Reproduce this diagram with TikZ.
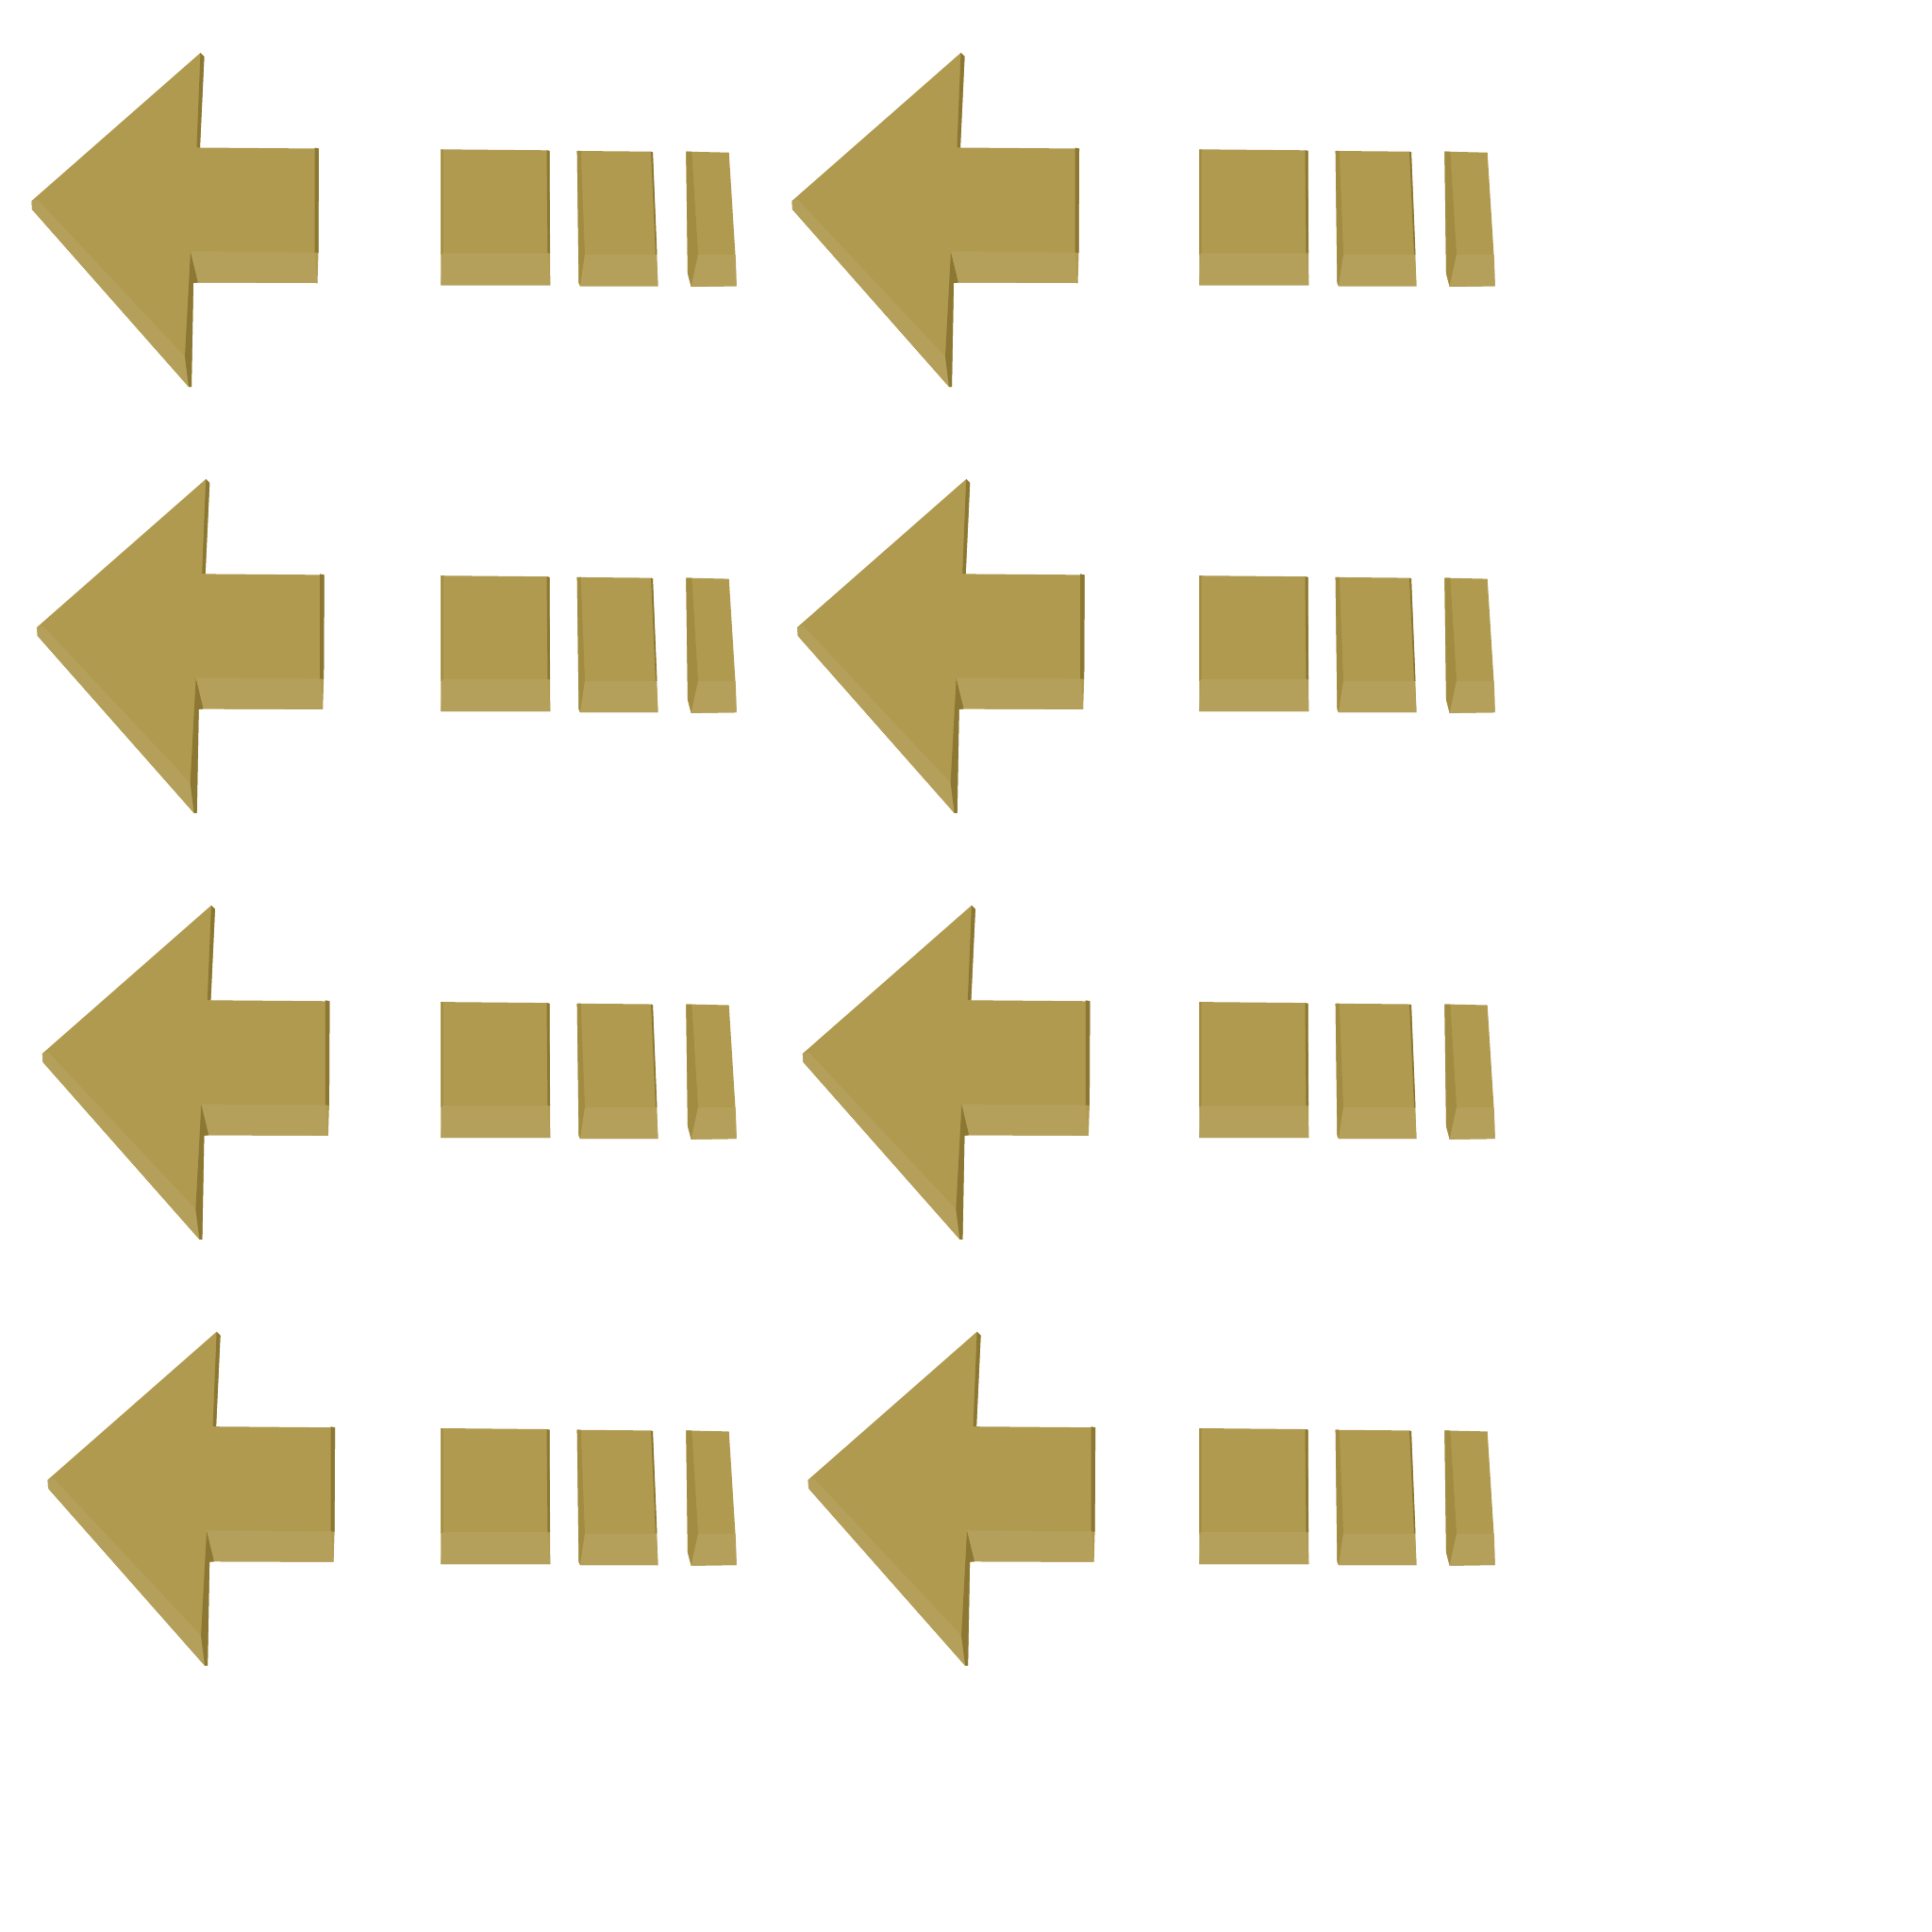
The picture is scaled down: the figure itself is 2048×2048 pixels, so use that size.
\documentclass[tikz,border=0pt]{standalone}
\usetikzlibrary{calc}
\definecolor{ochfront}{RGB}{176,154,80}
\definecolor{ochlight}{RGB}{180,160,90}
\definecolor{ochdark}{RGB}{140,120,50}
\definecolor{ochmid}{RGB}{162,140,66}
\tikzset{
  frontface/.style={fill=ochfront},
  lightface/.style={fill=ochlight},
  darkface/.style={fill=ochdark},
  midface/.style={fill=ochmid},
  arrowpic/.pic={
    \path[frontface] (33.5,213) -- (212.5,56) -- (216.5,60) -- (212,156.5) -- (338,157.5) -- (337.5,268) -- (336.5,300) -- (210,299.5) -- (205,300) -- (203,410) -- (200,410) -- (34,222) -- cycle;
    \path[lightface] (33.5,213) -- (40,211.7) -- (196,378) -- (200,410) -- (34,222) -- cycle;
    \path[darkface] (202,266.5) -- (210,299.5) -- (205,300) -- (203,410) -- (200,410) -- (196,378) -- cycle;
    \path[lightface] (202,266.5) -- (333.5,267.5) -- (336.5,300) -- (210,299.5) -- cycle;
    \path[darkface] (333.5,156.5) -- (338,157.5) -- (337.5,268) -- (333.5,267.5) -- cycle;
    \path[darkface] (212.5,56) -- (216.5,60) -- (212,156.5) -- (208.5,156) -- cycle;
  },
  blockspic/.pic={
    % block 1
    \path[frontface] (467.3,158.3) -- (579.5,159.3) -- (582.5,160) -- (583.3,302.3) -- (467.3,302.3) -- cycle;
    \path[midface] (467.3,158.3) -- (469.5,158.5) -- (469.5,268.3) -- (467.3,270) -- cycle;
    \path[darkface] (579.5,159.3) -- (582.5,160) -- (583,268.3) -- (580.5,268.3) -- cycle;
    \path[lightface] (469,268.3) -- (580.5,268.3) -- (583.3,302.3) -- (467.3,302.3) -- cycle;
    % block 2
    \path[frontface] (611.7,160) -- (690,160.7) -- (692,161.5) -- (697.5,303.3) -- (615,303.3) -- (613.5,300) -- cycle;
    \path[midface] (611.7,160) -- (615.7,159.8) -- (620,270) -- (615,303.3) -- (613.5,300) -- cycle;
    \path[darkface] (690,160.7) -- (692,161.5) -- (696.5,270) -- (695,270) -- cycle;
    \path[lightface] (620,270) -- (696,270) -- (697.5,303.3) -- (615,303.3) -- cycle;
    % block 3
    \path[frontface] (727.3,160.7) -- (772.7,161.7) -- (780,278) -- (780.7,303.3) -- (732.7,304) -- (729,290) -- cycle;
    \path[midface] (727.3,160.7) -- (733.3,160.7) -- (740,270) -- (732.7,304) -- (729,290) -- cycle;
    \path[lightface] (740,270) -- (779.5,270) -- (780.7,303.3) -- (732.7,304) -- cycle;
  }
}
\begin{document}
\begin{tikzpicture}[x=0.01cm,y=-0.01cm]
  \path[use as bounding box] (0,0) rectangle (2048,2048);
  \fill[white] (0,0) rectangle (2048,2048);
  \foreach \r in {0,...,3} {
    \foreach \c in {0,1} {
      \pic at ({806*\c+5.7*\r},{451.9*\r}) {arrowpic};
      \pic at ({804*\c},{451.9*\r}) {blockspic};
    }
  }
\end{tikzpicture}
\end{document}
